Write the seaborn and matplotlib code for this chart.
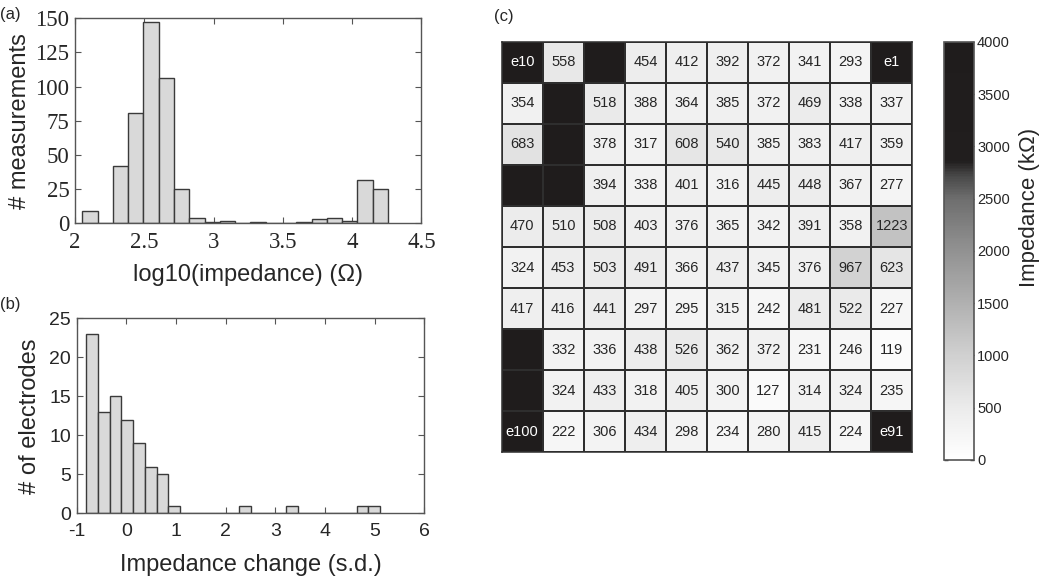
import numpy as np
import pandas as pd
import matplotlib
matplotlib.use("Agg")
import matplotlib.pyplot as plt
from matplotlib.colors import LinearSegmentedColormap
import seaborn as sns

# ---------------- data ----------------
# (a) histogram of log10(impedance)
a_bin_start = 2.053
a_bin_width = 0.1103
a_counts = [9, 0, 42, 81, 147, 106, 25, 4, 1, 2, 0, 1, 0, 0, 1, 3, 4, 2, 32, 25]
a_xticks = [2, 2.5, 3, 3.5, 4, 4.5]
a_xticklabels = ["2", "2.5", "3", "3.5", "4", "4.5"]
a_yticks = [0, 25, 50, 75, 100, 125, 150]

# (b) histogram of impedance change
b_bin_start = -0.812
b_bin_width = 0.2369
b_counts = [23, 13, 15, 12, 9, 6, 5, 1, 0, 0, 0, 0, 0, 1, 0, 0, 0, 1, 0, 0, 0, 0, 0, 1, 1]
b_xticks = [-1, 0, 1, 2, 3, 4, 5, 6]
b_xticklabels = ["-1", "0", "1", "2", "3", "4", "5", "6"]
b_yticks = [0, 5, 10, 15, 20, 25]

# (c) electrode impedance map (kOhm); 4000 = open / saturated (black)
OPEN = 4000
grid_values = [
    [OPEN, 558, OPEN, 454, 412, 392, 372, 341, 293, OPEN],
    [354, OPEN, 518, 388, 364, 385, 372, 469, 338, 337],
    [683, OPEN, 378, 317, 608, 540, 385, 383, 417, 359],
    [OPEN, OPEN, 394, 338, 401, 316, 445, 448, 367, 277],
    [470, 510, 508, 403, 376, 365, 342, 391, 358, 1223],
    [324, 453, 503, 491, 366, 437, 345, 376, 967, 623],
    [417, 416, 441, 297, 295, 315, 242, 481, 522, 227],
    [OPEN, 332, 336, 438, 526, 362, 372, 231, 246, 119],
    [OPEN, 324, 433, 318, 405, 300, 127, 314, 324, 235],
    [OPEN, 222, 306, 434, 298, 234, 280, 415, 224, OPEN],
]
corner_labels = {(0, 0): "e10", (0, 9): "e1", (9, 0): "e100", (9, 9): "e91"}
cbar_ticks = [0, 500, 1000, 1500, 2000, 2500, 3000, 3500, 4000]

# ---------------- style ----------------
sns.set_style("white")
plt.rcParams["font.family"] = ["Liberation Sans", "DejaVu Sans"]

fig = plt.figure(figsize=(10.5, 5.76), dpi=100)

bar_face = "#d9d9d9"
bar_edge = "#3a3a3a"
spine_col = "#555555"


def style_axes(ax, pad):
    for s in ax.spines.values():
        s.set_color(spine_col)
        s.set_linewidth(1.0)
        s.set_visible(True)
    ax.tick_params(direction="in", top=True, right=True, bottom=True, left=True,
                   length=4, width=0.8, color=spine_col)
    ax.tick_params(axis="x", pad=pad)
    ax.tick_params(axis="y", pad=4)


# ---- (a) ----
ax_a = fig.add_axes([0.0714, 0.6123, 0.330, 0.356])
a_edges = [a_bin_start + a_bin_width * k for k in range(len(a_counts) + 1)]
a_centers = [a_bin_start + a_bin_width * (k + 0.5) for k in range(len(a_counts))]
sns.histplot(x=a_centers, weights=a_counts, bins=a_edges, ax=ax_a,
             color=bar_face, edgecolor=bar_edge, linewidth=1.0, alpha=1.0)
ax_a.set_xlim(2, 4.5)
ax_a.set_ylim(0, 150)
ax_a.set_xticks(a_xticks)
ax_a.set_xticklabels(a_xticklabels, fontfamily="Liberation Serif", fontsize=16.5)
ax_a.set_yticks(a_yticks)
ax_a.set_yticklabels([str(v) for v in a_yticks], fontfamily="Liberation Serif", fontsize=16.5)
ax_a.set_xlabel("log10(impedance) (Ω)", fontsize=17, labelpad=8)
ax_a.set_ylabel("# measurements", fontsize=17, labelpad=3)
style_axes(ax_a, 6)

# ---- (b) ----
ax_b = fig.add_axes([0.073, 0.1088, 0.331, 0.3385])
b_edges = [b_bin_start + b_bin_width * k for k in range(len(b_counts) + 1)]
b_centers = [b_bin_start + b_bin_width * (k + 0.5) for k in range(len(b_counts))]
sns.histplot(x=b_centers, weights=b_counts, bins=b_edges, ax=ax_b,
             color=bar_face, edgecolor=bar_edge, linewidth=1.0, alpha=1.0)
ax_b.set_xlim(-1, 6)
ax_b.set_ylim(0, 25)
ax_b.set_xticks(b_xticks)
ax_b.set_xticklabels(b_xticklabels, fontsize=14)
ax_b.set_yticks(b_yticks)
ax_b.set_yticklabels([str(v) for v in b_yticks], fontsize=14)
ax_b.set_xlabel("Impedance change (s.d.)", fontsize=17, labelpad=10)
ax_b.set_ylabel("# of electrodes", fontsize=17, labelpad=6)
style_axes(ax_b, 7)

# ---- (c) ----
ax_c = fig.add_axes([0.4778, 0.2148, 0.391, 0.7128])
cax = fig.add_axes([0.899, 0.2014, 0.0289, 0.726])

cmap = LinearSegmentedColormap.from_list("imp", [
    (0.0, "#ffffff"),
    (0.125, "#ebebeb"),
    (0.25, "#d0d0d0"),
    (0.375, "#b0b0b0"),
    (0.5, "#929292"),
    (0.625, "#6e6e6e"),
    (0.68, "#484848"),
    (0.715, "#211e1e"),
    (1.0, "#1f1c1c"),
])

df = pd.DataFrame(grid_values)
annot = []
for i, row in enumerate(grid_values):
    arow = []
    for j, v in enumerate(row):
        if (i, j) in corner_labels:
            arow.append(corner_labels[(i, j)])
        elif v >= OPEN:
            arow.append("")
        else:
            arow.append(str(v))
    annot.append(arow)

sns.heatmap(df, ax=ax_c, cmap=cmap, vmin=0, vmax=4000, annot=np.array(annot), fmt="",
            annot_kws={"fontsize": 10.5, "fontfamily": "Liberation Sans"},
            linewidths=1.1, linecolor="#2e2e2e", cbar_ax=cax,
            cbar_kws={"ticks": cbar_ticks}, square=False)
ax_c.set_xticks([])
ax_c.set_yticks([])
ax_c.set_xlabel("")
ax_c.set_ylabel("")
for s in ax_c.spines.values():
    s.set_visible(True)
    s.set_color("#2e2e2e")
    s.set_linewidth(1.1)

cax.tick_params(direction="in", left=True, right=True, labelleft=False, labelright=True,
                length=3, width=1.0, color="#333333", labelsize=10.5, pad=2)
cax.set_yticklabels([str(t) for t in cbar_ticks])
cb = ax_c.collections[0].colorbar
cb.outline.set_edgecolor("#555555")
cb.outline.set_linewidth(1.2)
fig.text(1030 / 1050, 1 - 207 / 576, "Impedance (kΩ)", rotation=90, fontsize=16,
         ha="center", va="center")

# panel labels
fig.text(0.0, 1 - 14 / 576, "(a)", fontsize=12, ha="left", va="center")
fig.text(0.0, 1 - 304 / 576, "(b)", fontsize=12, ha="left", va="center")
fig.text(494 / 1050, 1 - 16 / 576, "(c)", fontsize=12, ha="left", va="center")

fig.savefig("out.png", dpi=100)
